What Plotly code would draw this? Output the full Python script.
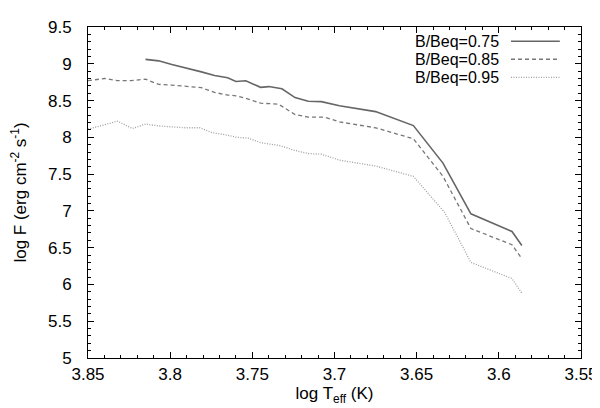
import plotly.graph_objects as go

names = ["B/Beq=0.75", "B/Beq=0.85", "B/Beq=0.95"]

x_075 = [3.815, 3.807, 3.799, 3.791, 3.781, 3.773, 3.765, 3.760, 3.754, 3.745, 3.740,
         3.732, 3.724, 3.716, 3.708, 3.697, 3.675, 3.652, 3.634, 3.617, 3.592, 3.586]
y_075 = [9.06, 9.04, 8.99, 8.95, 8.89, 8.84, 8.81, 8.76, 8.77, 8.68, 8.69,
         8.66, 8.54, 8.49, 8.485, 8.43, 8.35, 8.16, 7.65, 6.96, 6.72, 6.53]

x_085 = [3.850, 3.840, 3.832, 3.824, 3.815, 3.807, 3.799, 3.781, 3.773, 3.765, 3.760,
         3.754, 3.745, 3.734, 3.724, 3.716, 3.706, 3.697, 3.675, 3.652, 3.634, 3.617,
         3.592, 3.586]
y_085 = [8.77, 8.80, 8.77, 8.77, 8.79, 8.72, 8.71, 8.675, 8.61, 8.575, 8.565,
         8.53, 8.465, 8.45, 8.31, 8.275, 8.275, 8.21, 8.13, 7.98, 7.47, 6.76,
         6.54, 6.35]

x_095 = [3.850, 3.832, 3.823, 3.815, 3.807, 3.791, 3.782, 3.774, 3.7675, 3.7595, 3.7526,
         3.7446, 3.7337, 3.7238, 3.716, 3.708, 3.697, 3.675, 3.652, 3.633, 3.617,
         3.592, 3.586]
y_095 = [8.11, 8.22, 8.12, 8.18, 8.155, 8.13, 8.13, 8.06, 8.04, 8.00, 7.99,
         7.925, 7.89, 7.82, 7.78, 7.77, 7.69, 7.61, 7.47, 6.98, 6.30,
         6.08, 5.88]

xs = [x_075, x_085, x_095]
ys = [y_075, y_085, y_095]
colors = ["#666666", "#777777", "#a0a0a0"]
dashes = ["solid", "4px,3px", "1px,1.5px"]
widths = [1.6, 1.3, 1.3]

FONT = "Liberation Sans, Arial, Helvetica, sans-serif"

fig = go.Figure()
for n, x, y, c, d, w in zip(names, xs, ys, colors, dashes, widths):
    fig.add_trace(go.Scatter(x=x, y=y, mode="lines", name=n, showlegend=False,
                             line=dict(color=c, dash=d, width=w)))

# gnuplot-style key: text right-aligned, sample line to the right
key_y = [0.957, 0.9025, 0.848]
for n, c, d, w, ky in zip(names, colors, dashes, widths, key_y):
    fig.add_annotation(xref="paper", yref="paper", x=0.835, y=ky, text=n,
                       showarrow=False, xanchor="right", yanchor="middle",
                       borderpad=0,
                       font=dict(size=16, color="black", family=FONT))
    fig.add_shape(type="line", xref="paper", yref="paper",
                  x0=0.858, x1=0.957, y0=ky, y1=ky,
                  line=dict(color=c, dash=d, width=w))

axis_common = dict(showline=True, linecolor="black", linewidth=1, mirror="allticks",
                   ticks="inside", ticklen=6, tickcolor="black", tickwidth=1,
                   showgrid=False, zeroline=False,
                   tickfont=dict(size=17, color="black", family=FONT))

fig.update_xaxes(range=[3.85, 3.55], tickvals=[3.85, 3.8, 3.75, 3.7, 3.65, 3.6, 3.55],
                 ticktext=["3.85", "3.8", "3.75", "3.7", "3.65", "3.6", "3.55"],
                 minor=dict(dtick=0.01, ticks="inside", ticklen=3, tickcolor="black"),
                 title=dict(text="log T<sub>eff</sub> (K)", standoff=3,
                            font=dict(size=17, color="black", family=FONT)),
                 ticklabelstandoff=1,
                 **axis_common)
fig.update_yaxes(range=[5, 9.5], tickvals=[5, 5.5, 6, 6.5, 7, 7.5, 8, 8.5, 9, 9.5],
                 ticktext=["5", "5.5", "6", "6.5", "7", "7.5", "8", "8.5", "9", "9.5"],
                 minor=dict(dtick=0.1, ticks="inside", ticklen=3, tickcolor="black"),
                 title=dict(text="log F (erg cm<sup>-2</sup> s<sup>-1</sup>)", standoff=18,
                            font=dict(size=17, color="black", family=FONT)),
                 ticklabelstandoff=12,
                 **axis_common)

fig.update_layout(width=600, height=408, margin=dict(l=78, r=18, t=10, b=58),
                  plot_bgcolor="white", paper_bgcolor="white",
                  font=dict(family=FONT, size=17, color="black"))

fig.write_html("out.html")
